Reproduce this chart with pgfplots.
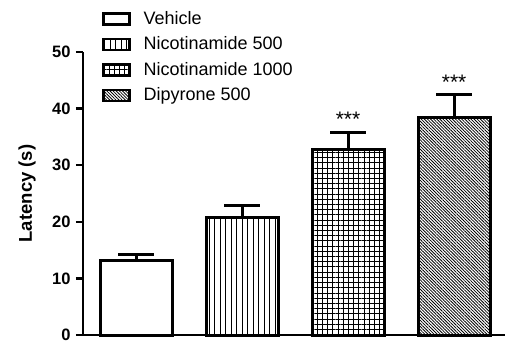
\documentclass[border=0pt]{standalone}
\usepackage{pgfplots}
\pgfplotsset{compat=1.18}
\usepackage{fontspec}
\setmainfont{Liberation Sans}
\usetikzlibrary{patterns.meta}
\pgfplotsset{
  errstyle/.style={error bars/.cd, y dir=plus, y explicit,
    error bar style={line width=3pt, black},
    error mark options={rotate=90, line width=3pt, mark size=18pt, black}},
}
\begin{document}
\begin{tikzpicture}
\begin{axis}[
  scale only axis,
  width=422pt, height=283pt,
  xmin=-0.5, xmax=3.48,
  ymin=0, ymax=50,
  axis x line=bottom, axis y line=left,
  axis line style={-, line width=2.2pt},
  xtick=\empty,
  ytick={0,10,20,30,40,50},
  tick align=outside,
  major tick length=7pt,
  ytick style={line width=2.2pt, black},
  /pgf/number format/assume math mode=true,
  yticklabel style={font=\bfseries\fontsize{16.5}{17}\selectfont, xshift=-2pt},
  ylabel={Latency (s)},
  every axis y label/.style={at={(axis description cs:0,0.5)}, xshift=-56pt, rotate=90, anchor=center, font=\bfseries\fontsize{18.5}{20}\selectfont},
  legend style={draw=none, fill=none, at={(0.045,1.145)}, anchor=north west,
    font=\fontsize{18}{20}\selectfont, row sep=8.5pt, column sep=13pt, inner sep=0pt,
    nodes={inner sep=0pt, text height=13pt, text depth=4pt}},
  legend cell align=left,
  legend image code/.code={\draw[#1, line width=2.5pt] (0pt,-5pt) rectangle (26pt,6pt);},
  clip=false,
]
\addplot[ybar, bar width=72pt, bar shift=0pt, draw=black, line width=3pt, fill=white, errstyle]
  coordinates {(0,13.1) +- (0,1.1)};
\addlegendentry{Vehicle}
\addplot[ybar, bar width=72pt, bar shift=0pt, draw=black, line width=3pt,
  pattern={Lines[angle=90, distance=5.5pt, line width=1pt]}, pattern color=black, errstyle]
  coordinates {(1,20.75) +- (0,2.15)};
\addlegendentry{Nicotinamide 500}
\addplot[ybar, bar width=72pt, bar shift=0pt, draw=black, line width=3pt,
  pattern={Hatch[angle=0, distance=5.2pt, line width=1pt]}, pattern color=black, errstyle]
  coordinates {(2,32.75) +- (0,2.95)};
\addlegendentry{Nicotinamide 1000}
\addplot[ybar, bar width=72pt, bar shift=0pt, draw=black, line width=3pt,
  pattern={Lines[angle=-45, distance=2.2pt, line width=0.8pt]}, pattern color=black, errstyle]
  coordinates {(3,38.5) +- (0,4.0)};
\addlegendentry{Dipyrone 500}
\node[font=\fontsize{21}{22}\selectfont] at (axis cs:2,38.2) {***};
\node[font=\fontsize{21}{22}\selectfont] at (axis cs:3,44.7) {***};
\coordinate (O) at (rel axis cs:0,0);
\end{axis}
\pgfresetboundingbox
\path[use as bounding box] (O) ++(-83pt,-10pt) rectangle ++(505pt,345pt);
\end{tikzpicture}
\end{document}
